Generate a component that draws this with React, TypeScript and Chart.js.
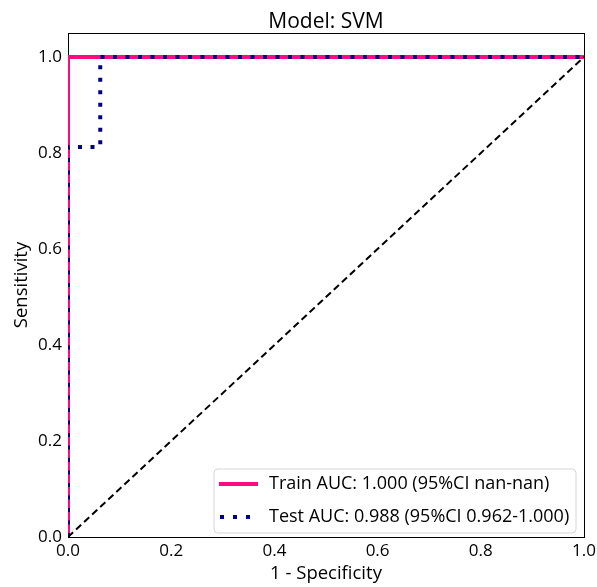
import React, { useEffect, useRef } from "react";
import { Chart, registerables } from "chart.js";

Chart.register(...registerables);

const titleText = "Model: SVM";
const xTitle = "1 - Specificity";
const yTitle = "Sensitivity";
const tickValues = [0, 0.2, 0.4, 0.6, 0.8, 1.0];

const trainFpr = [0, 0, 1];
const trainTpr = [0, 1, 1];
const testFpr = [0, 0, 0.0625, 0.0625, 1];
const testTpr = [0, 0.8125, 0.8125, 1, 1];
const chanceFpr = [0, 1];
const chanceTpr = [0, 1];

const trainLabel = "Train AUC: 1.000 (95%CI nan-nan)";
const testLabel = "Test AUC: 0.988 (95%CI 0.962-1.000)";

const trainColor = "#FF0A80";
const testColor = "#00007F";

const FONT = "'Open Sans', 'Noto Sans', sans-serif";

const toPts = (xs: number[], ys: number[]) => xs.map((x, i) => ({ x, y: ys[i] }));

const framePlugin = {
  id: "frame",
  beforeDatasetsDraw(chart: any) {
    const { ctx, chartArea: a } = chart;
    ctx.save();
    ctx.strokeStyle = "#000";
    ctx.lineWidth = 1;
    ctx.strokeRect(a.left + 0.5, a.top + 0.5, a.right - a.left, a.bottom - a.top);
    ctx.restore();
  },
  afterDraw(chart: any) {
    const { ctx, chartArea: a } = chart;
    ctx.save();
    // title
    ctx.fillStyle = "#000";
    ctx.font = `21px ${FONT}`;
    ctx.textAlign = "center";
    ctx.textBaseline = "alphabetic";
    ctx.fillText(titleText, (a.left + a.right) / 2, a.top - 5);
    // legend
    const bx = 214, by = 469, bw = 362, bh = 64, r = 4;
    ctx.fillStyle = "rgba(255,255,255,0.85)";
    ctx.strokeStyle = "#d6d6d6";
    ctx.lineWidth = 1;
    ctx.beginPath();
    ctx.moveTo(bx + r, by);
    ctx.arcTo(bx + bw, by, bx + bw, by + bh, r);
    ctx.arcTo(bx + bw, by + bh, bx, by + bh, r);
    ctx.arcTo(bx, by + bh, bx, by, r);
    ctx.arcTo(bx, by, bx + bw, by, r);
    ctx.closePath();
    ctx.fill();
    ctx.stroke();
    const y1 = 484, y2 = 517;
    ctx.lineCap = "butt";
    ctx.strokeStyle = trainColor;
    ctx.lineWidth = 4;
    ctx.setLineDash([]);
    ctx.beginPath();
    ctx.moveTo(219, y1);
    ctx.lineTo(258, y1);
    ctx.stroke();
    ctx.strokeStyle = testColor;
    ctx.setLineDash([4, 9]);
    ctx.beginPath();
    ctx.moveTo(220, y2);
    ctx.lineTo(258, y2);
    ctx.stroke();
    ctx.setLineDash([]);
    ctx.fillStyle = "#000";
    ctx.font = `18px ${FONT}`;
    ctx.textAlign = "left";
    ctx.textBaseline = "middle";
    ctx.fillText(trainLabel, 269, y1);
    ctx.fillText(testLabel, 269, y2);
    ctx.restore();
  },
};

export default function App() {
  const ref = useRef<HTMLCanvasElement>(null);
  useEffect(() => {
    const clipArea = { left: 0, top: 4, right: 4, bottom: 0 };
    const chart = new Chart(ref.current!, {
      type: "line",
      data: {
        datasets: [
          {
            label: "chance",
            data: toPts(chanceFpr, chanceTpr),
            borderColor: "#000",
            borderWidth: 2,
            borderDash: [7, 4],
            pointRadius: 0,
            fill: false,
            clip: clipArea,
          },
          {
            label: testLabel,
            data: toPts(testFpr, testTpr),
            borderColor: testColor,
            borderWidth: 4,
            borderDash: [4, 8.5],
            borderCapStyle: "butt",
            pointRadius: 0,
            fill: false,
            clip: clipArea,
          },
          {
            label: trainLabel,
            data: toPts(trainFpr, trainTpr),
            borderColor: trainColor,
            borderWidth: 4,
            pointRadius: 0,
            fill: false,
            clip: clipArea,
          },
        ],
      },
      options: {
        animation: false,
        responsive: false,
        maintainAspectRatio: false,
        layout: { padding: { top: 33, right: 13, left: 11, bottom: 2 } },
        plugins: { legend: { display: false }, tooltip: { enabled: false }, title: { display: false } },
        scales: {
          x: {
            type: "linear",
            min: 0,
            max: 1,
            grid: { display: false, drawTicks: true, tickLength: 4, color: "#000" },
            border: { display: true, color: "#000" },
            ticks: {
              color: "#000",
              font: { family: FONT, size: 17 },
              padding: 0,
              maxRotation: 0,
              callback: (v: any) => Number(v).toFixed(1),
            },
            afterBuildTicks: (s: any) => {
              s.ticks = tickValues.map((v) => ({ value: v }));
            },
            afterFit: (s: any) => {
              s.height = 48;
            },
            title: { display: true, text: xTitle, color: "#000", font: { family: FONT, size: 18.5 }, padding: 0 },
          },
          y: {
            type: "linear",
            min: 0,
            max: 1.05,
            grid: { display: false, drawTicks: true, tickLength: 4, color: "#000" },
            border: { display: true, color: "#000" },
            ticks: {
              color: "#000",
              font: { family: FONT, size: 17 },
              padding: 2,
              callback: (v: any) => Number(v).toFixed(1),
            },
            afterBuildTicks: (s: any) => {
              s.ticks = tickValues.map((v) => ({ value: v }));
            },
            afterFit: (s: any) => {
              s.width = 57;
            },
            title: { display: true, text: yTitle, color: "#000", font: { family: FONT, size: 18.5 }, padding: 0 },
          },
        },
      },
      plugins: [framePlugin],
    });
    return () => chart.destroy();
  }, []);
  return (
    <div style={{ position: "fixed", left: 0, top: 0, width: 597, height: 587, background: "#fff" }}>
      <canvas ref={ref} width={597} height={587} style={{ width: 597, height: 587 }} />
    </div>
  );
}
